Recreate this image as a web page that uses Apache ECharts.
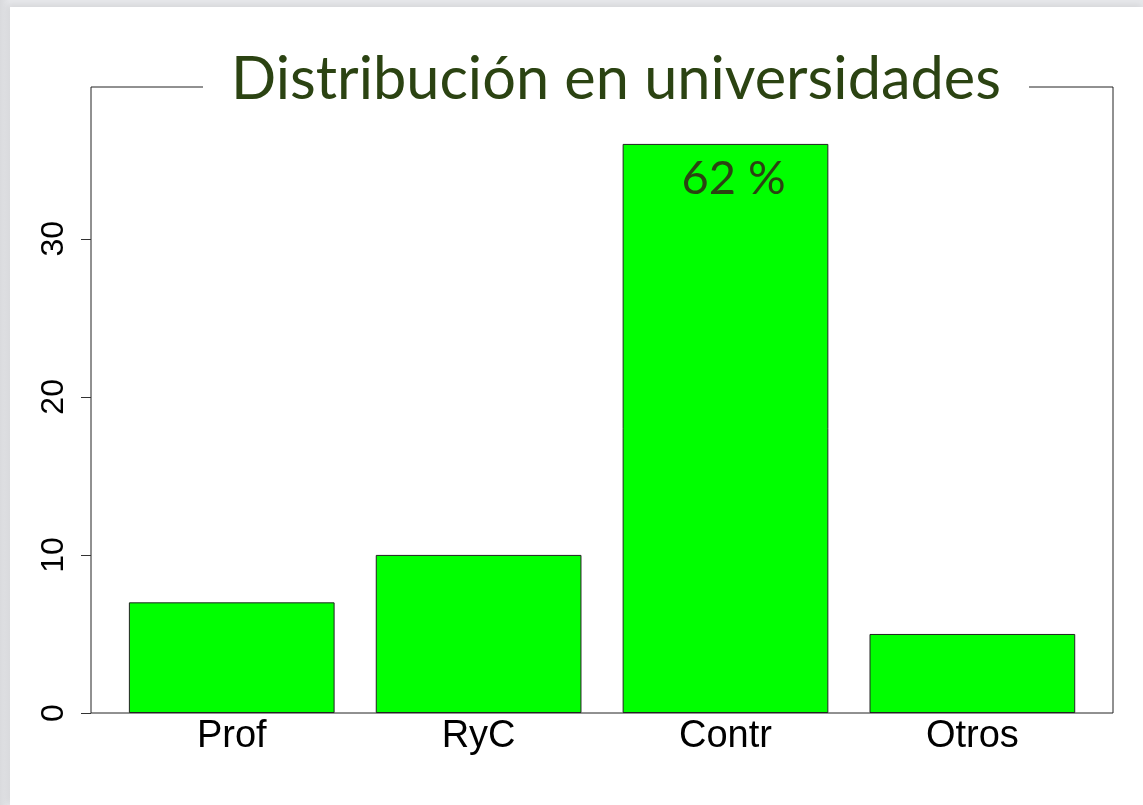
<!DOCTYPE html>
<html lang="es">
<head>
    <meta charset="UTF-8">
    <title>Distribución en universidades</title>
    <script src="https://cdn.jsdelivr.net/npm/echarts@6.0.0/dist/echarts.min.js"></script>
    <style>
        * { margin: 0; padding: 0; box-sizing: border-box; }
        body {
            width: 1143px;
            height: 805px;
            background: linear-gradient(to right, #d9dadd, #e6e7ea 10px, #e6e7ea);
            overflow: hidden;
            position: relative;
        }
        .panel {
            position: absolute;
            left: 10px;
            top: 7px;
            right: 0;
            bottom: 0;
            background: #fff;
            box-shadow: -2px -2px 6px rgba(0, 0, 0, 0.08);
        }
        #chart {
            position: absolute;
            left: 0;
            top: 0;
            width: 1143px;
            height: 805px;
        }
    </style>
</head>
<body>
    <div class="panel"></div>
    <div id="chart"></div>

    <script>
        // datos
        const categorias = ['Prof', 'RyC', 'Contr', 'Otros'];
        const valores = [7, 10, 36, 5];
        const yMax = 39.6;          // ylim = max * 1.1
        const yTicks = 10;

        const total = valores.reduce((a, b) => a + b, 0);
        const maxIdx = valores.indexOf(Math.max(...valores));

        const verde = '#00ff00';
        const verdeOscuro = '#2b4312';

        const chart = echarts.init(document.getElementById('chart'), null, { renderer: 'canvas' });

        const option = {
            backgroundColor: 'transparent',
            animation: false,
            title: {
                text: 'Distribución en universidades',
                left: 203,
                top: 46,
                padding: [0, 28],
                backgroundColor: '#fff',
                textStyle: {
                    fontFamily: 'Lato',
                    fontSize: 59.5,
                    fontWeight: 'normal',
                    color: verdeOscuro,
                    lineHeight: 68
                }
            },
            grid: [
                // marco
                { left: 91, top: 87, width: 1022, height: 626, show: true,
                  borderColor: '#222', borderWidth: 1, backgroundColor: 'transparent' },
                // barras
                { left: 108.3, top: 87, width: 987.5, height: 626 }
            ],
            xAxis: [
                { gridIndex: 0, type: 'value', show: false, min: 0, max: 1 },
                {
                    gridIndex: 1,
                    type: 'category',
                    data: categorias,
                    axisLine: { show: false },
                    axisTick: { show: false },
                    axisLabel: {
                        margin: 5,
                        fontFamily: 'Liberation Sans',
                        fontSize: 38,
                        color: '#000'
                    }
                }
            ],
            yAxis: [
                {
                    gridIndex: 0,
                    type: 'value',
                    min: 0,
                    max: yMax,
                    interval: yTicks,
                    axisLine: { show: false },
                    axisTick: { show: true, length: 10, lineStyle: { color: '#333' } },
                    splitLine: { show: false },
                    axisLabel: {
                        rotate: 90,
                        margin: 21,
                        fontFamily: 'Liberation Sans',
                        fontSize: 32,
                        color: '#000',
                        showMaxLabel: false
                    }
                },
                { gridIndex: 1, type: 'value', min: 0, max: yMax, show: false }
            ],
            series: [{
                type: 'bar',
                xAxisIndex: 1,
                yAxisIndex: 1,
                barCategoryGap: '16.67%',
                data: valores.map((v, i) => ({
                    value: v,
                    label: { show: i === maxIdx }
                })),
                itemStyle: {
                    color: verde,
                    borderColor: '#222',
                    borderWidth: 1
                },
                label: {
                    position: 'insideTop',
                    distance: 11,
                    offset: [8, 0],
                    fontFamily: 'Lato',
                    fontSize: 47,
                    color: verdeOscuro,
                    formatter: p => Math.round(p.value / total * 100) + ' %'
                }
            }]
        };

        chart.setOption(option);
    </script>
</body>
</html>
